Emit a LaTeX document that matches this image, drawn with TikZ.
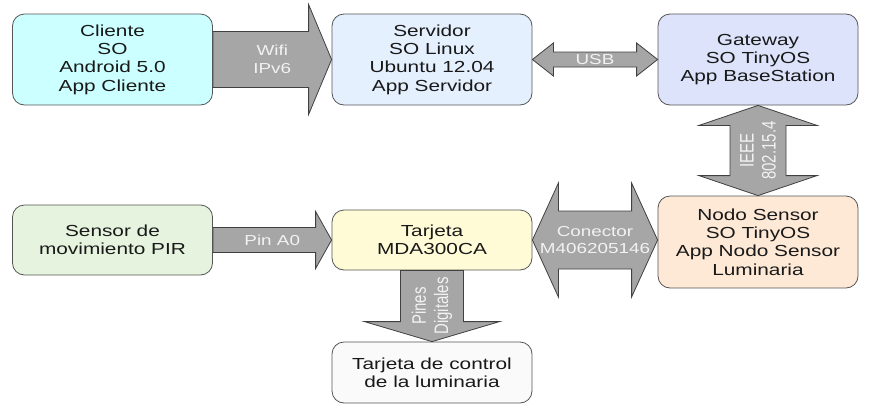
\documentclass[tikz,border=0pt]{standalone}
\usepackage{fontspec}
\setmainfont[FakeStretch=1.3]{Liberation Sans}
\newfontfamily\plainsans{Liberation Sans}
\usepackage{tikz}
\usetikzlibrary{calc}
\definecolor{clientefill}{HTML}{CCFFFF}
\definecolor{servfill}{HTML}{E5F0FF}
\definecolor{gwfill}{HTML}{DCE3FA}
\definecolor{pirfill}{HTML}{E6F4DF}
\definecolor{mdafill}{HTML}{FFFBD6}
\definecolor{nodofill}{HTML}{FDE9D6}
\definecolor{ctrlfill}{HTML}{FAFAFA}
\definecolor{boxline}{HTML}{555555}
\definecolor{arrowgray}{HTML}{A6A6A6}
\definecolor{arrowline}{HTML}{404040}
\definecolor{arrowtext}{HTML}{F2F2F2}

\tikzset{
  box/.style={draw=boxline,line width=0.8pt,rounded corners=12pt,minimum width=200pt,inner sep=0pt,align=center,font=\fontsize{16}{18.3}\selectfont,text=black!90},
  blk/.style={draw=arrowline,fill=arrowgray,line width=0.8pt,line join=miter},
  lbl/.style={text=arrowtext,align=center,inner sep=0pt,font=\fontsize{14.5}{17.5}\selectfont},
  vlbl/.style={lbl,rotate=90,yscale=1.3,font=\plainsans\fontsize{15}{17}\selectfont}
}

\begin{document}
\begin{tikzpicture}[x=1pt,y=-1pt]
\useasboundingbox (0,0) rectangle (878,413);
% boxes
\node[box,fill=clientefill,minimum height=91pt] (cliente) at (112.5,59.5) {Cliente\\SO\\Android 5.0\\App Cliente};
\node[box,fill=servfill,minimum height=91pt] (servidor) at (432,59.5) {Servidor\\SO Linux\\Ubuntu 12.04\\App Servidor};
\node[box,fill=gwfill,minimum height=91pt] (gateway) at (758,59.5) {Gateway\\SO TinyOS\\App BaseStation};
\node[box,fill=pirfill,minimum height=70pt] (pir) at (112.5,240) {Sensor de\\movimiento PIR};
\node[box,fill=mdafill,minimum height=60pt] (tarjeta) at (432,240) {Tarjeta\\MDA300CA};
\node[box,fill=nodofill,minimum height=92pt] (nodo) at (758,242) {Nodo Sensor\\SO TinyOS\\App Nodo Sensor\\Luminaria};
\node[box,fill=ctrlfill,minimum height=61pt] (control) at (432,372.5) {Tarjeta de control\\de la luminaria};

% block arrows
\draw[blk] ($(cliente.east)+(0,-28)$) -- ($(servidor.west)+(-23,-28)$) -- ++(0,-27) -- (servidor.west) -- ++(-23,55) -- ++(0,-27) -- ($(cliente.east)+(0,28)$) -- cycle;
\draw[blk] (servidor.east) -- ++(21,-16.5) -- ++(0,9) -- ($(gateway.west)+(-21,-7.5)$) -- ++(0,-9) -- (gateway.west) -- ++(-21,16.5) -- ++(0,-9) -- ($(servidor.east)+(21,7.5)$) -- ++(0,9) -- cycle;
\draw[blk] (gateway.south) -- ++(59,20) -- ++(-31,0) -- ($(nodo.north)+(28,-20)$) -- ++(31,0) -- (nodo.north) -- ++(-59,-20) -- ++(31,0) -- ($(gateway.south)+(-28,20)$) -- ++(-31,0) -- cycle;
\coordinate (cr) at (nodo.west |- tarjeta.east);
\draw[blk] (tarjeta.east) -- ++(26,-57) -- ++(0,28) -- ($(cr)+(-26,-29)$) -- ++(0,-28) -- (cr) -- ++(-26,57) -- ++(0,-28) -- ($(tarjeta.east)+(26,29)$) -- ++(0,28) -- cycle;
\draw[blk] ($(pir.east)+(0,-12.5)$) -- ($(tarjeta.west)+(-16,-12.5)$) -- ++(0,-16) -- (tarjeta.west) -- ++(-16,28.5) -- ++(0,-16) -- ($(pir.east)+(0,12.5)$) -- cycle;
\draw[blk] ($(tarjeta.south)+(-31.5,0)$) -- ($(control.north)+(-31.5,-20)$) -- ++(-36,0) -- (control.north) -- ++(67.5,-20) -- ++(-36,0) -- ($(tarjeta.south)+(31.5,0)$) -- cycle;

% arrow labels
\node[lbl] (wifi) at ($(cliente.east)!0.5!(servidor.west)$) {Wifi\\IPv6};
\node[lbl] (usb) at ($(servidor.east)!0.5!(gateway.west)$) {USB};
\node[vlbl] (ieee) at ($(gateway.south)!0.5!(nodo.north)$) {IEEE\\802.15.4};
\node[lbl] (conector) at ($(tarjeta.east)!0.5!(cr)$) {Conector\\M406205146};
\node[lbl] (pin) at ($(pir.east)!0.5!(tarjeta.west)$) {Pin A0};
\node[vlbl] (pines) at ($(tarjeta.south)!0.5!(control.north)$) {Pines\\Digitales};
\end{tikzpicture}
\end{document}
